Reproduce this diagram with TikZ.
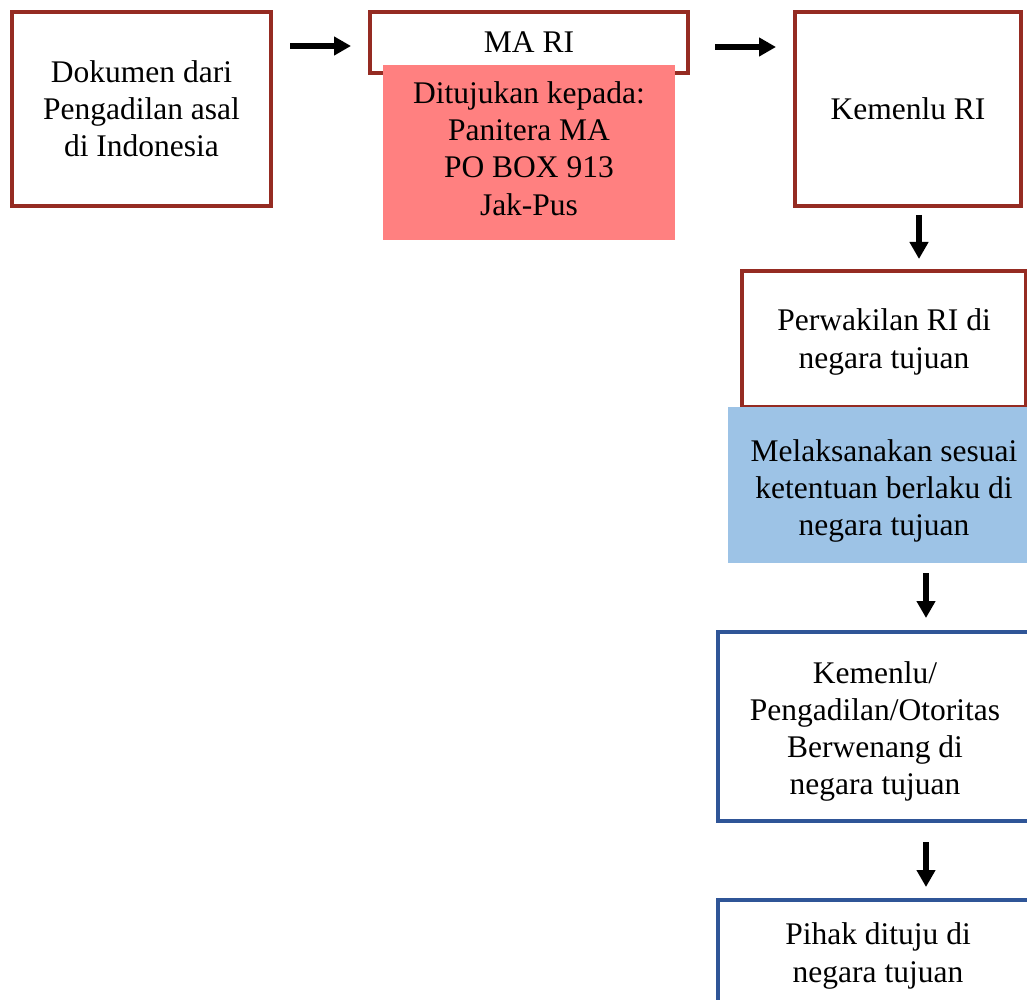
\documentclass[tikz,border=0pt]{standalone}
\usepackage{fontspec}
\setmainfont{Liberation Serif}
\usetikzlibrary{arrows.meta}
\definecolor{dred}{RGB}{149,43,34}
\definecolor{pinkfill}{RGB}{255,128,128}
\definecolor{lblue}{RGB}{157,195,230}
\definecolor{dblue}{RGB}{47,85,151}
\tikzset{
  txt/.style={font=\fontsize{31.5}{37.2}\selectfont, align=center, inner sep=0pt, outer sep=0pt},
  redbox/.style={txt, draw=dred, line width=4pt, fill=white, rectangle},
  bluebox/.style={txt, draw=dblue, line width=4.5pt, fill=white, rectangle},
  fillbox/.style={txt, rectangle},
  arr/.style={line width=5.5pt, -{Triangle[length=17pt,width=18pt]}},
}
\begin{document}
\begin{tikzpicture}[x=1pt,y=-1pt]
\useasboundingbox (0,0) rectangle (1027,1000);
\clip (0,0) rectangle (1027,1000);
\fill[white] (0,0) rectangle (1027,1000);

\node[redbox, minimum width=259pt, minimum height=194pt] (dok) at (141.5,109)
  {Dokumen dari\\Pengadilan asal\\di Indonesia};
\node[redbox, minimum width=318pt, minimum height=61pt] (mari) at (529,42.5) {MA RI};
\node[fillbox, fill=pinkfill, minimum width=292pt, minimum height=175pt] (tuju) at (529,152.5) {};
\node[txt, yshift=4pt] (tujut) at (tuju) {Ditujukan kepada:\\Panitera MA\\PO BOX 913\\Jak-Pus};
\node[redbox, minimum width=226pt, minimum height=194pt] (kri) at (908,109) {Kemenlu RI};
\node[redbox, minimum width=284pt, minimum height=136pt] (perw) at (884,339) {};
\node[txt, yshift=-3pt] (perwt) at (perw) {Perwakilan RI di\\negara tujuan};
\node[fillbox, fill=lblue, minimum width=312pt, minimum height=156pt] (lak) at (884,485) {};
\node[txt, yshift=-6pt] (lakt) at (lak) {Melaksanakan sesuai\\ketentuan berlaku di\\negara tujuan};
\node[bluebox, minimum width=314pt, minimum height=189pt] (kpo) at (875,726.5) {};
\node[txt, yshift=-5pt] (kpot) at (kpo) {Kemenlu/\\Pengadilan/Otoritas\\Berwenang di\\negara tujuan};
\node[bluebox, minimum width=320pt, minimum height=112pt] (pihak) at (878,956)
  {Pihak dituju di\\negara tujuan};

\coordinate (a1s) at (290,46);  \coordinate (a1e) at (351,46);
\coordinate (a2s) at (715,47);  \coordinate (a2e) at (776,47);
\coordinate (a3s) at (919,215); \coordinate (a3e) at (919,259);
\coordinate (a4s) at (926,573); \coordinate (a4e) at (926,618);
\coordinate (a5s) at (926,842); \coordinate (a5e) at (926,887);
\draw[arr] (a1s) -- (a1e);
\draw[arr] (a2s) -- (a2e);
\draw[arr] (a3s) -- (a3e);
\draw[arr] (a4s) -- (a4e);
\draw[arr] (a5s) -- (a5e);
\end{tikzpicture}
\end{document}
